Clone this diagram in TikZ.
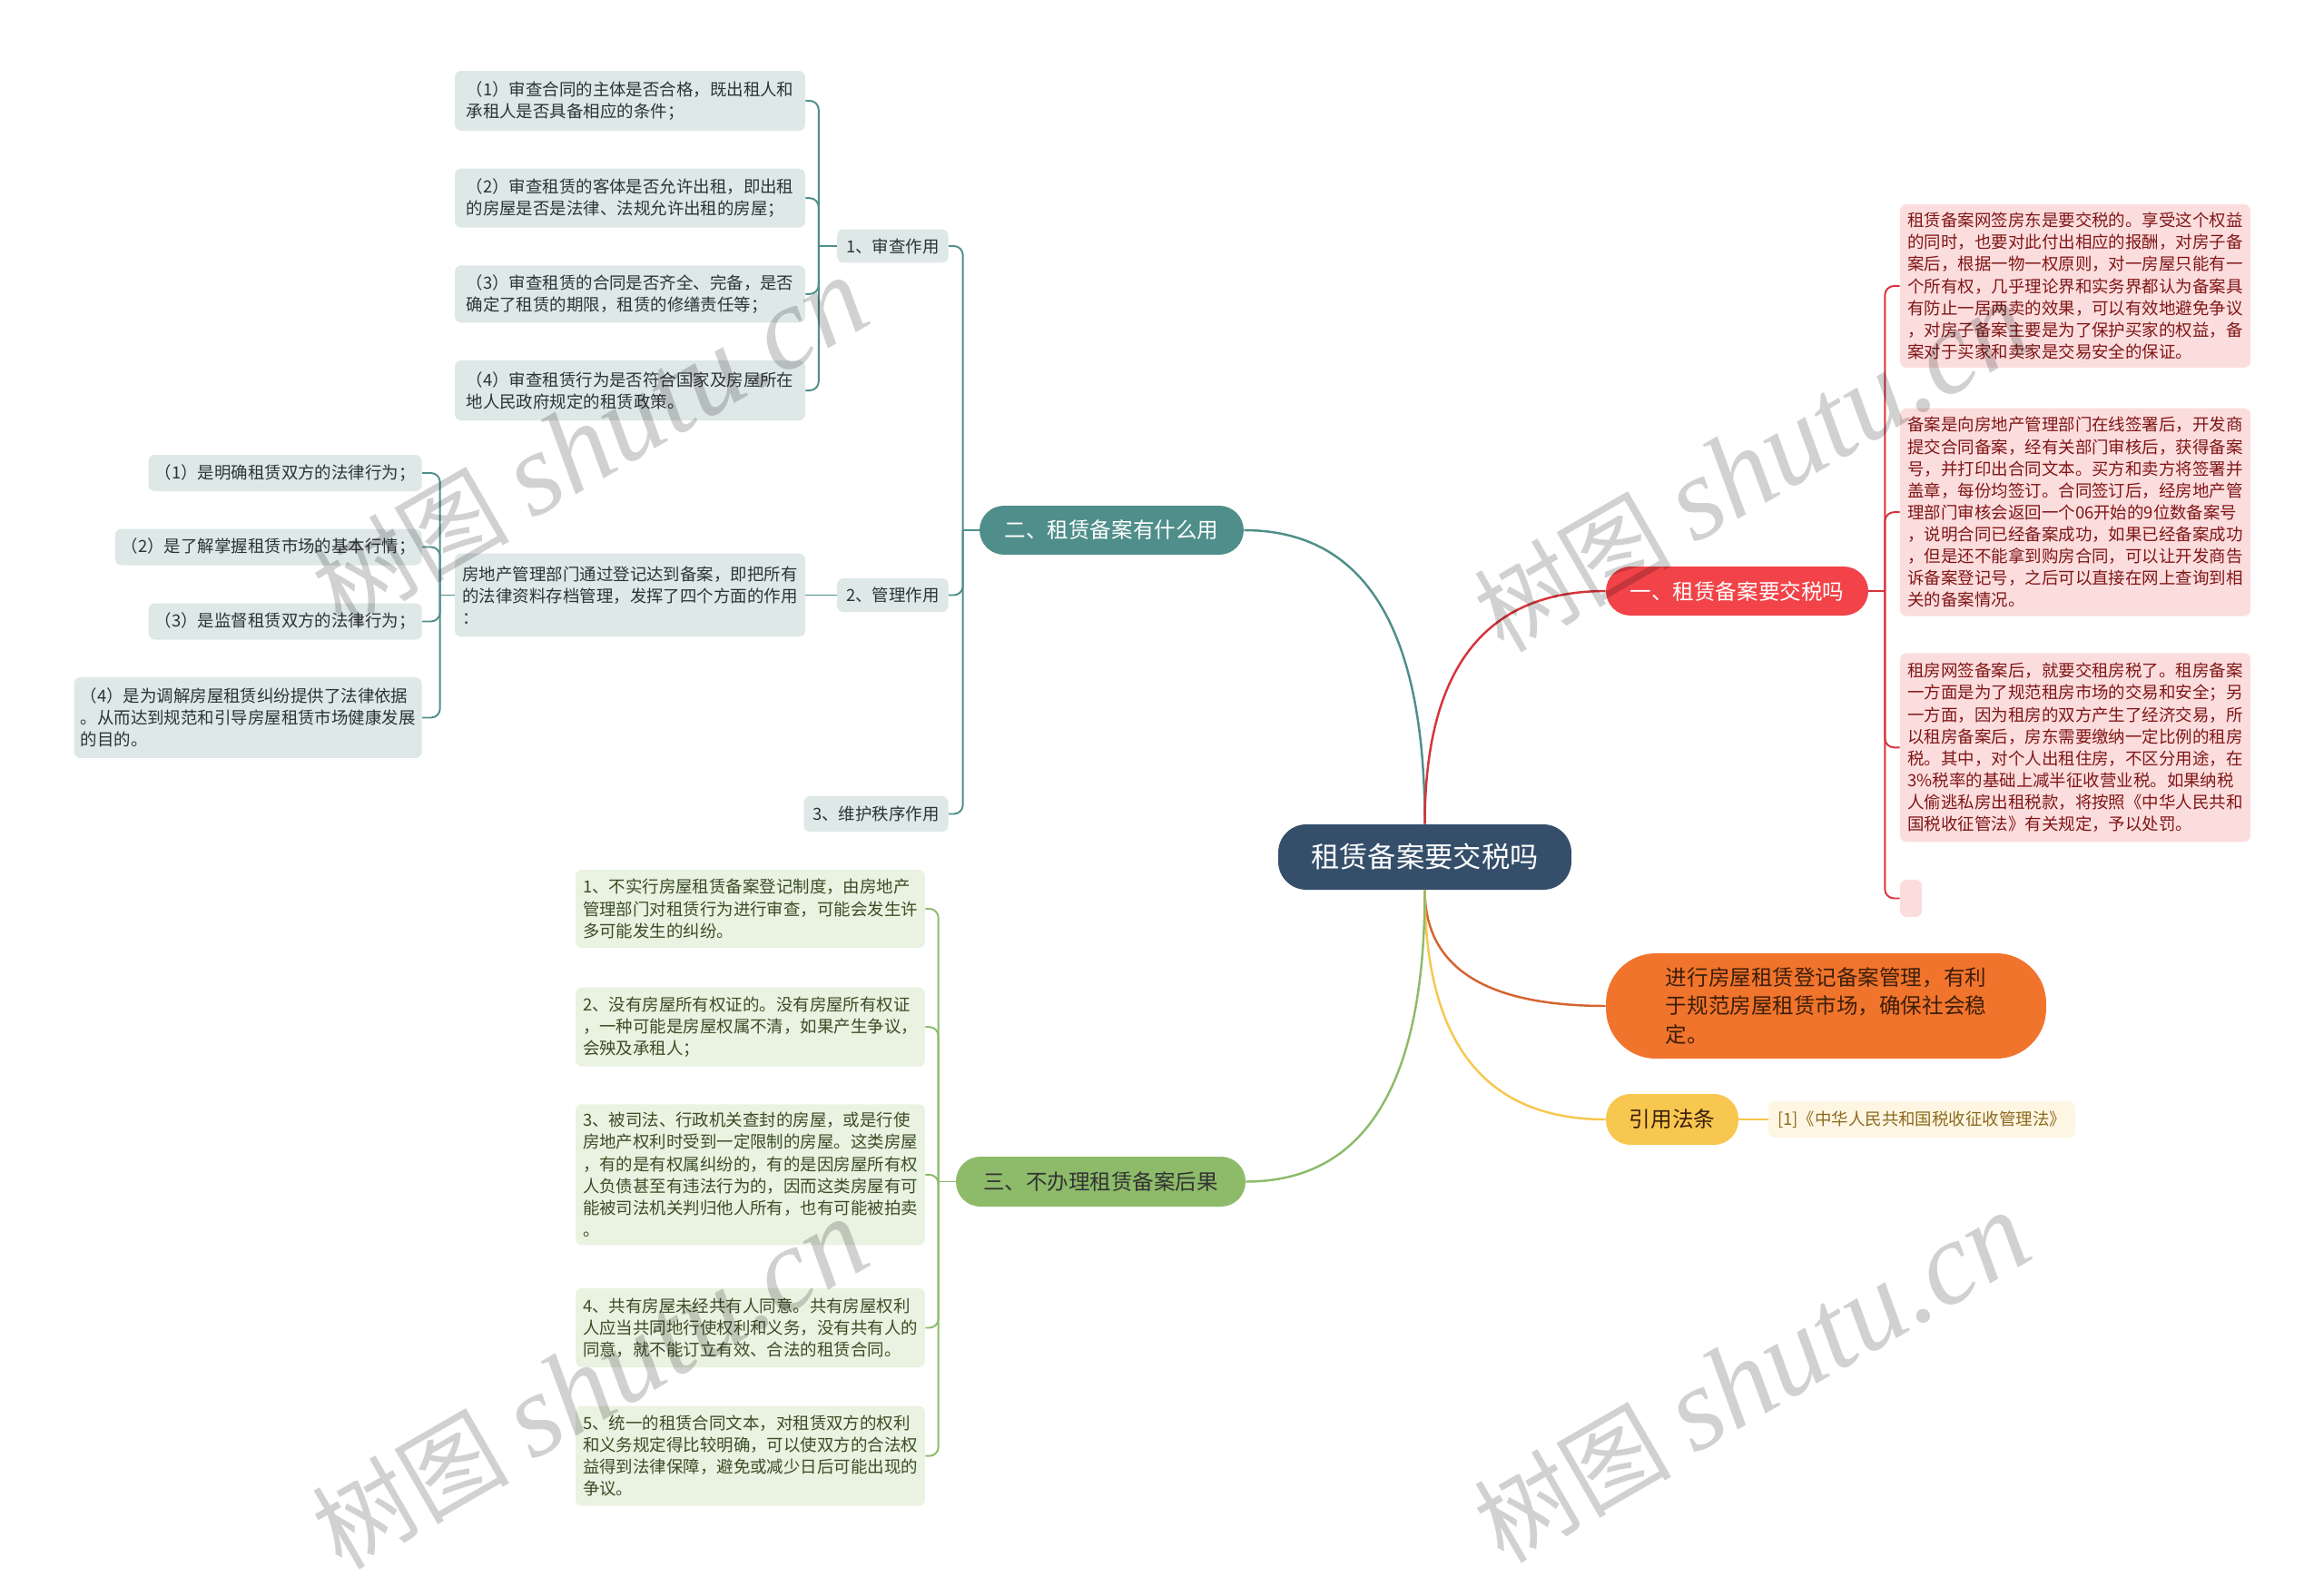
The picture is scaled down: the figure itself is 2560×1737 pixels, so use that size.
\documentclass[tikz,border=0pt]{standalone}
\usepackage{fontspec}
\setmainfont{Noto Sans CJK SC}
\newfontfamily\wmlatin{Liberation Serif}
\usepackage{tikz}
\usetikzlibrary{positioning,calc}
\usepackage{xcolor}
\definecolor{RootBlue}{RGB}{53,79,107}
\definecolor{TealMain}{RGB}{79,142,138}
\definecolor{TealLight}{RGB}{221,232,231}
\definecolor{TealText}{RGB}{45,52,52}
\definecolor{RedMain}{RGB}{241,67,72}
\definecolor{RedLine}{RGB}{214,52,58}
\definecolor{RedLight}{RGB}{252,221,222}
\definecolor{RedText}{RGB}{128,22,22}
\definecolor{OrangeMain}{RGB}{241,116,44}
\definecolor{OrangeLine}{RGB}{214,100,48}
\definecolor{OrangeText}{RGB}{60,30,10}
\definecolor{YellowMain}{RGB}{247,199,79}
\definecolor{YellowLight}{RGB}{254,246,226}
\definecolor{YellowText}{RGB}{140,105,30}
\definecolor{GreenMain}{RGB}{141,187,106}
\definecolor{GreenLight}{RGB}{234,242,225}
\definecolor{GreenText}{RGB}{58,78,38}
\newcommand\leaffont{\fontsize{10.5pt}{13.7pt}\selectfont}
\newcommand\branchfont{\fontsize{13.4pt}{18pt}\selectfont}

\begin{document}
\begin{tikzpicture}[x=0.02cm, y=-0.02cm,
    root/.style={rectangle, rounded corners=0.62cm, fill=RootBlue, text=white,
                 minimum width=6.46cm, minimum height=1.44cm,
                 font=\fontsize{17.8pt}{20pt}\selectfont},
    branch/.style={rectangle, rounded corners=0.54cm, minimum height=1.08cm, font=\branchfont},
    sub/.style={rectangle, rounded corners=0.14cm, fill=TealLight, text=TealText,
                inner xsep=0.2cm, minimum height=0.74cm, font=\leaffont, anchor=east},
    leaf/.style={rectangle, rounded corners=0.14cm, inner xsep=0.14cm, inner ysep=0.1cm,
                 align=left, font=\leaffont},
    tealleaf/.style={leaf, fill=TealLight, text=TealText},
    greenleaf/.style={leaf, fill=GreenLight, text=GreenText, minimum width=7.7cm},
    redleaf/.style={leaf, fill=RedLight, text=RedText, minimum width=7.72cm},
    link/.style={line width=1.4pt},
    twig/.style={line width=1.1pt, rounded corners=0.2cm},
    quad/.style={to path={.. controls ($(\tikztostart)!0.667!(\tikztostart |- \tikztotarget)$)
                 and ($(\tikztotarget)!0.667!(\tikztostart |- \tikztotarget)$) .. (\tikztotarget)}},
    wmark/.style={rotate=30, text=black, opacity=0.18, font=\fontsize{62pt}{70pt}\selectfont}
]
    \fill[white] (0,0) rectangle (2560,1737);
    \useasboundingbox (0,0) rectangle (2560,1737);

    % centre and main branches
    \node[root] (root) at (1569.5,944) {租赁备案要交税吗};
    \node[branch, fill=TealMain, text=white, minimum width=5.82cm] (b2) at (1224.5,584) {二、租赁备案有什么用};
    \node[branch, fill=RedMain, text=white, minimum width=5.78cm] (b1) at (1913.5,651) {一、租赁备案要交税吗};
    \node[branch, fill=GreenMain, text=black!80, minimum width=6.38cm, minimum height=1.1cm] (b3) at (1212.5,1301.5) {三、不办理租赁备案后果};
    \node[branch, fill=OrangeMain, text=OrangeText, rounded corners=1.1cm, align=left,
          minimum width=9.7cm, minimum height=2.32cm] (b4) at (2011.5,1108)
          {进行房屋租赁登记备案管理，有利\\于规范房屋租赁市场，确保社会稳\\定。};
    \node[branch, fill=YellowMain, text=OrangeText, minimum width=2.92cm, minimum height=1.12cm] (b5) at (1842,1233) {引用法条};
    \node[leaf, fill=YellowLight, text=YellowText, minimum width=6.76cm, minimum height=0.8cm] (cite) at (2117,1233) {[1]《中华人民共和国税收征收管理法》};

    % 二
    \node[sub] (s1) at (1045,271) {1、审查作用};
    \node[sub] (s2) at (1045,655.5) {2、管理作用};
    \node[sub, minimum height=0.78cm] (s3) at (1045,896.5) {3、维护秩序作用};

    \node[tealleaf, minimum width=7.72cm, minimum height=1.32cm] (a1) at (694,111)
        {（1）审查合同的主体是否合格，既出租人和\\承租人是否具备相应的条件；};
    \node[tealleaf, minimum width=7.72cm, minimum height=1.3cm, below=0.82cm of a1] (a2)
        {（2）审查租赁的客体是否允许出租，即出租\\的房屋是否是法律、法规允许出租的房屋；};
    \node[tealleaf, minimum width=7.72cm, minimum height=1.26cm, below=0.82cm of a2] (a3)
        {（3）审查租赁的合同是否齐全、完备，是否\\确定了租赁的期限，租赁的修缮责任等；};
    \node[tealleaf, minimum width=7.72cm, minimum height=1.32cm, below=0.82cm of a3] (a4)
        {（4）审查租赁行为是否符合国家及房屋所在\\地人民政府规定的租赁政策。};

    \node[tealleaf, minimum width=7.72cm, minimum height=1.84cm] (m0) at (694,655.5)
        {房地产管理部门通过登记达到备案，即把所有\\的法律资料存档管理，发挥了四个方面的作用\\：};
    \node[tealleaf, anchor=east, minimum height=0.8cm] (m1) at (465,521) {（1）是明确租赁双方的法律行为；};
    \node[tealleaf, anchor=east, minimum height=0.8cm] (m2) at (465,602.5) {（2）是了解掌握租赁市场的基本行情；};
    \node[tealleaf, anchor=east, minimum height=0.8cm] (m3) at (465,684.5) {（3）是监督租赁双方的法律行为；};
    \node[tealleaf, anchor=east, minimum height=1.78cm] (m4) at (465,790.5)
        {（4）是为调解房屋租赁纠纷提供了法律依据\\。从而达到规范和引导房屋租赁市场健康发展\\的目的。};

    % 一
    \node[redleaf, minimum height=3.6cm] (r1) at (2286,315)
        {租赁备案网签房东是要交税的。享受这个权益\\的同时，也要对此付出相应的报酬，对房子备\\案后，根据一物一权原则，对一房屋只能有一\\个所有权，几乎理论界和实务界都认为备案具\\有防止一居两卖的效果，可以有效地避免争议\\，对房子备案主要是为了保护买家的权益，备\\案对于买家和卖家是交易安全的保证。};
    \node[redleaf, minimum height=4.58cm, below=0.88cm of r1] (r2)
        {备案是向房地产管理部门在线签署后，开发商\\提交合同备案，经有关部门审核后，获得备案\\号，并打印出合同文本。买方和卖方将签署并\\盖章，每份均签订。合同签订后，经房地产管\\理部门审核会返回一个06开始的9位数备案号\\，说明合同已经备案成功，如果已经备案成功\\，但是还不能拿到购房合同，可以让开发商告\\诉备案登记号，之后可以直接在网上查询到相\\关的备案情况。};
    \node[redleaf, minimum height=4.16cm, below=0.8cm of r2] (r3)
        {租房网签备案后，就要交租房税了。租房备案\\一方面是为了规范租房市场的交易和安全；另\\一方面，因为租房的双方产生了经济交易，所\\以租房备案后，房东需要缴纳一定比例的租房\\税。其中，对个人出租住房，不区分用途，在\\3\%税率的基础上减半征收营业税。如果纳税\\人偷逃私房出租税款，将按照《中华人民共和\\国税收征管法》有关规定，予以处罚。};
    \node[redleaf, inner sep=0pt, minimum width=0.48cm, minimum height=0.82cm,
          below=0.82cm of r3.south west, anchor=north west] (r4) {};

    % 三
    \node[greenleaf, minimum height=1.72cm] (g1) at (826.5,1001)
        {1、不实行房屋租赁备案登记制度，由房地产\\管理部门对租赁行为进行审查，可能会发生许\\多可能发生的纠纷。};
    \node[greenleaf, minimum height=1.74cm, below=0.86cm of g1] (g2)
        {2、没有房屋所有权证的。没有房屋所有权证\\，一种可能是房屋权属不清，如果产生争议，\\会殃及承租人；};
    \node[greenleaf, minimum height=3.1cm, below=0.82cm of g2] (g3)
        {3、被司法、行政机关查封的房屋，或是行使\\房地产权利时受到一定限制的房屋。这类房屋\\，有的是有权属纠纷的，有的是因房屋所有权\\人负债甚至有违法行为的，因而这类房屋有可\\能被司法机关判归他人所有，也有可能被拍卖\\。};
    \node[greenleaf, minimum height=1.74cm, below=0.94cm of g3] (g4)
        {4、共有房屋未经共有人同意。共有房屋权利\\人应当共同地行使权利和义务，没有共有人的\\同意，就不能订立有效、合法的租赁合同。};
    \node[greenleaf, minimum height=2.2cm, below=0.84cm of g4] (g5)
        {5、统一的租赁合同文本，对租赁双方的权利\\和义务规定得比较明确，可以使双方的合法权\\益得到法律保障，避免或减少日后可能出现的\\争议。};

    % connectors from the centre
    \draw[link, TealMain] (root.north) to[quad] (b2.east);
    \draw[link, RedLine] (root.north) to[quad] (b1.west);
    \draw[link, OrangeLine] (root.south) to[quad] (b4.west);
    \draw[link, YellowMain] (root.south) to[quad] (b5.west);
    \draw[link, GreenMain] (root.south) to[quad] (b3.east);
    \draw[link, YellowMain] (b5.east) -- (cite.west);

    % teal twigs
    \coordinate (t2) at ([xshift=-0.36cm]b2.west);
    \draw[twig, TealMain] (b2.west) -- (t2);
    \foreach \n in {s1,s2,s3}
        \draw[twig, TealMain] (t2) |- (\n.east);
    \coordinate (t1) at ([xshift=-0.4cm]s1.west);
    \draw[twig, TealMain] (s1.west) -- (t1);
    \foreach \n in {a1,a2,a3,a4}
        \draw[twig, TealMain] (t1) |- (\n.east);
    \draw[twig, TealMain] (s2.west) -- (m0.east);
    \coordinate (tm) at ([xshift=-0.32cm]m0.west);
    \draw[twig, TealMain] (m0.west) -- (tm);
    \foreach \n in {m1,m2,m3,m4}
        \draw[twig, TealMain] (tm) |- (\n.east);

    % red twigs
    \coordinate (tr) at ([xshift=0.36cm]b1.east);
    \draw[twig, RedLine] (b1.east) -- (tr);
    \foreach \n in {r1,r2,r3,r4}
        \draw[twig, RedLine] (tr) |- (\n.west);

    % green twigs
    \coordinate (tg) at ([xshift=-0.38cm]b3.west);
    \draw[twig, GreenMain] (b3.west) -- (tg);
    \foreach \n in {g1,g2,g3,g4,g5}
        \draw[twig, GreenMain] (tg) |- (\n.east);

    % watermarks
    \node[wmark] (w1) at (650,488) {树图 {\wmlatin\itshape\fontsize{74pt}{80pt}\selectfont shutu.cn}};
    \node[wmark] (w2) at (1930,515) {树图 {\wmlatin\itshape\fontsize{74pt}{80pt}\selectfont shutu.cn}};
    \node[wmark] (w3) at (650,1525) {树图 {\wmlatin\itshape\fontsize{74pt}{80pt}\selectfont shutu.cn}};
    \node[wmark] (w4) at (1930,1518) {树图 {\wmlatin\itshape\fontsize{74pt}{80pt}\selectfont shutu.cn}};
\end{tikzpicture}
\end{document}
